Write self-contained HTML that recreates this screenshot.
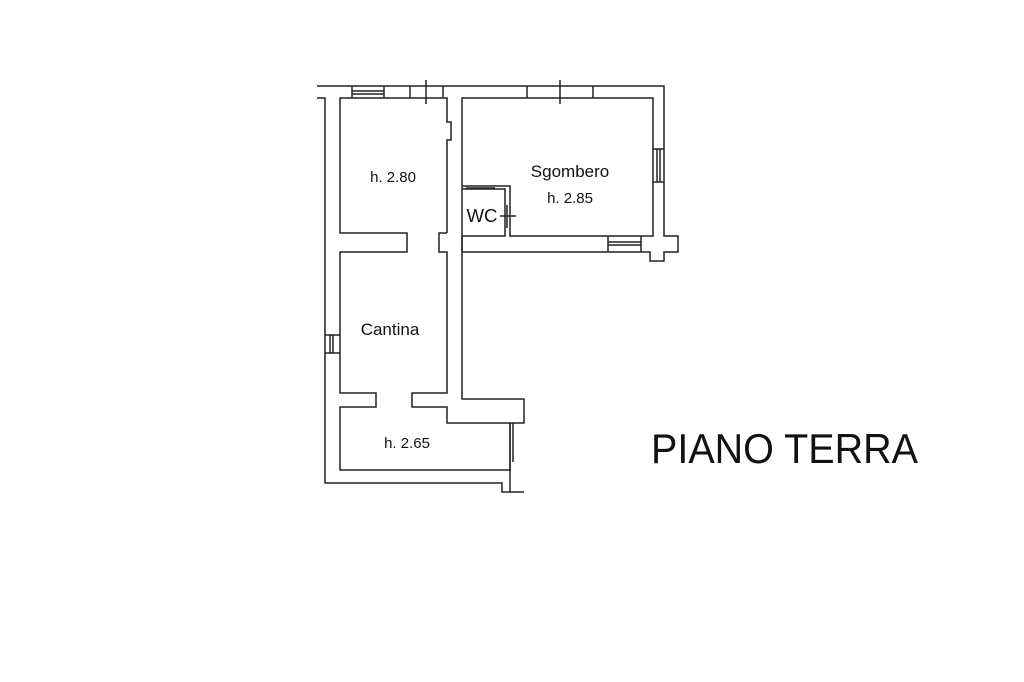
<!DOCTYPE html>
<html><head><meta charset="utf-8"><style>
html,body{margin:0;padding:0;background:#fff;width:1024px;height:682px;overflow:hidden}
text{font-family:"Liberation Sans",Arial,sans-serif;fill:#111}
</style></head><body>
<svg width="1024" height="682" viewBox="0 0 1024 682" xmlns="http://www.w3.org/2000/svg">
<g fill="none" stroke="#222" stroke-width="1.5">
<polyline points="317,86 664,86 664,236 678,236 678,252 664,252 664,261 650,261 650,252 462,252 462,399 524,399 524,423 447,423 447,407 412,407 412,393 447,393 447,252 439,252 439,233 447,233"/>
<polyline points="317,98 325,98 325,483 502,483 502,492 524,492"/>
<polyline points="447,233 447,140 451,140 451,122 447,122 447,98 340,98 340,233 407,233 407,252 340,252 340,393 376,393 376,407 340,407 340,470 510,470 510,423"/>
<polyline points="462,252 462,98 653,98 653,236 510,236 510,186 462,186 462,236 505,236 505,189 462,189"/>
<line x1="462" y1="236" x2="462" y2="252"/>
<line x1="352" y1="86" x2="352" y2="98"/><line x1="384" y1="86" x2="384" y2="98"/>
<line x1="352" y1="91" x2="384" y2="91"/><line x1="352" y1="94" x2="384" y2="94"/>
<line x1="410" y1="86" x2="410" y2="98"/><line x1="443" y1="86" x2="443" y2="98"/>
<line x1="426" y1="80" x2="426" y2="104"/>
<line x1="527" y1="86" x2="527" y2="98"/><line x1="593" y1="86" x2="593" y2="98"/>
<line x1="560" y1="80" x2="560" y2="104"/>
<line x1="653" y1="149" x2="664" y2="149"/><line x1="653" y1="182" x2="664" y2="182"/>
<line x1="657" y1="149" x2="657" y2="182"/><line x1="660" y1="149" x2="660" y2="182"/>
<line x1="608" y1="236" x2="608" y2="252"/><line x1="641" y1="236" x2="641" y2="252"/>
<line x1="608" y1="242" x2="641" y2="242"/><line x1="608" y1="245" x2="641" y2="245"/>
<line x1="466" y1="188" x2="495" y2="188"/>
<line x1="507" y1="205" x2="507" y2="228"/>
<line x1="500" y1="216" x2="516" y2="216"/>
<line x1="325" y1="335" x2="340" y2="335"/><line x1="325" y1="353" x2="340" y2="353"/>
<line x1="330" y1="335" x2="330" y2="353"/><line x1="333" y1="335" x2="333" y2="353"/>
<line x1="510" y1="423" x2="510" y2="492"/>
<line x1="513" y1="423" x2="513" y2="462"/>
</g>
<text x="393" y="182" font-size="15" text-anchor="middle">h. 2.80</text>
<text x="570" y="177" font-size="17" text-anchor="middle">Sgombero</text>
<text x="570" y="203" font-size="15" text-anchor="middle">h. 2.85</text>
<text x="482" y="222" font-size="18" text-anchor="middle" textLength="31" lengthAdjust="spacingAndGlyphs">WC</text>
<text x="390" y="335" font-size="17" text-anchor="middle">Cantina</text>
<text x="407" y="448" font-size="15" text-anchor="middle">h. 2.65</text>
<text x="651" y="463" font-size="42" textLength="267" lengthAdjust="spacingAndGlyphs">PIANO TERRA</text>
</svg>
</body></html>
